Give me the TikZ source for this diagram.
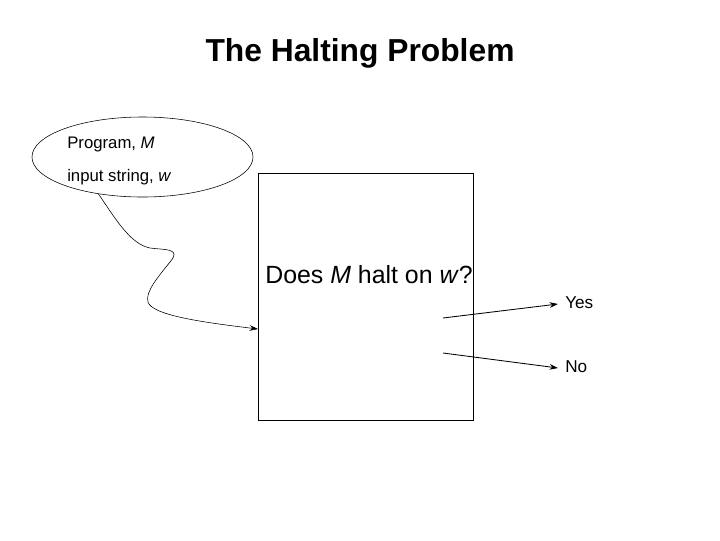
\documentclass[tikz,border=0pt]{standalone}
\usepackage{fontspec}
\setmainfont{Liberation Sans}
\usetikzlibrary{arrows.meta,shapes.geometric}
\tikzset{>=Stealth}

\begin{document}
\begin{tikzpicture}[x=0.025cm,y=-0.025cm]
    \useasboundingbox (0,0) rectangle (720,540);
    \node[anchor=base,font=\bfseries\fontsize{22.6}{27}\selectfont] at (360,61) (title) {The Halting Problem};
    \node[draw,ellipse,minimum width=5.525cm,minimum height=2cm,inner sep=0pt] at (142.5,157) (prog) {};
    \node[anchor=base west,inner sep=0pt,font=\fontsize{11.9}{14}\selectfont] at (67,148) (progM) {Program, \textit{M}};
    \node[anchor=base west,inner sep=0pt,font=\fontsize{11.9}{14}\selectfont] at (67,181) (inputw) {input string, \textit{w}};
    \node[draw,rectangle,minimum width=5.375cm,minimum height=6.175cm,inner sep=0pt] at (365.5,297) (halt) {};
    \node[anchor=base west,inner sep=0pt,font=\fontsize{17.7}{21}\selectfont] at (265,283) (question) {Does \textit{M} halt on \textit{w}?};
    \node[anchor=base west,inner sep=0pt,font=\fontsize{12.2}{14}\selectfont] at (565,308) (yes) {Yes};
    \node[anchor=base west,inner sep=0pt,font=\fontsize{12.2}{14}\selectfont] at (565,372) (no) {No};
    \coordinate (feed) at (258,329);
    \coordinate (yesfrom) at (443,318);
    \coordinate (yesto) at (558,304);
    \coordinate (nofrom) at (443,353);
    \coordinate (noto) at (558,368);
    \draw[->, >={Stealth[length=6pt,width=4pt]}] (prog.220) .. controls (115,218) and (130,244) .. (150,248)
        .. controls (165,250) and (182,248) .. (170,262)
        .. controls (158,277) and (145,292) .. (148,302)
        .. controls (152,315) and (200,322) .. (feed);
    \path[->, semithick, >={Stealth[length=6pt,width=4pt]}]
    (yesfrom) edge (yesto)
    (nofrom) edge (noto)
    ;
\end{tikzpicture}
\end{document}
